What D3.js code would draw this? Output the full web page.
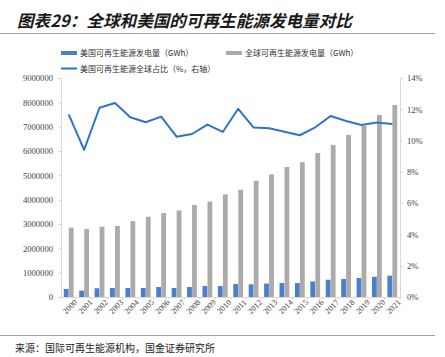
<!DOCTYPE html>
<html><head><meta charset="utf-8">
<script src="https://cdn.jsdelivr.net/npm/d3@7"></script>
<style>
html,body{margin:0;padding:0;background:#fff;}
svg{display:block;}
</style></head>
<body>
<svg id="c" width="445" height="357"></svg>
<script>
const years = ["2000","2001","2002","2003","2004","2005","2006","2007","2008","2009","2010","2011","2012","2013","2014","2015","2016","2017","2018","2019","2020","2021"];
const usGen = [330000,260000,360000,370000,370000,370000,410000,370000,410000,450000,450000,530000,520000,550000,575000,575000,640000,710000,740000,780000,830000,876000];
const globalGen = [2850000,2790000,2890000,2920000,3120000,3300000,3450000,3560000,3780000,3920000,4220000,4410000,4780000,5040000,5340000,5540000,5920000,6250000,6660000,7030000,7480000,7890000];
const usShare = [11.68,9.40,12.10,12.40,11.49,11.17,11.53,10.25,10.42,11.02,10.55,12.03,10.83,10.79,10.57,10.34,10.85,11.57,11.25,11.00,11.15,11.06];
const leftTicks = [0,1000000,2000000,3000000,4000000,5000000,6000000,7000000,8000000,9000000];
const rightTicks = [0,2,4,6,8,10,12,14];
const titleText = "图表29：全球和美国的可再生能源发电量对比";
const sourceText = "来源：国际可再生能源机构，国金证券研究所";
const legendNames = ["美国可再生能源发电量（GWh）","全球可再生能源发电量（GWh）","美国可再生能源全球占比（%，右轴）"];

const svg = d3.select("#c");
const cjk = "'Noto Sans CJK SC', sans-serif";
const serif = "'Liberation Serif', 'Times New Roman', serif";
const blue = "#4a7fcd", gray = "#ababab", lineC = "#2e75c8", axisC = "#d9d9d9", txt = "#404040";

// title
svg.append("text").attr("x",17).attr("y",27).text(titleText)
  .attr("font-family",cjk).attr("font-size",16.6).attr("font-weight","bold")
  .attr("font-style","italic").attr("fill","#1a1a1a");
svg.append("line").attr("x1",0).attr("x2",435).attr("y1",33.5).attr("y2",33.5)
  .attr("stroke","#8fa4b6").attr("stroke-width",1.2);
svg.append("line").attr("x1",0).attr("x2",435).attr("y1",335.5).attr("y2",335.5)
  .attr("stroke","#8fa4b6").attr("stroke-width",1);
svg.append("text").attr("x",15).attr("y",352).text(sourceText)
  .attr("font-family",cjk).attr("font-size",10).attr("fill","#222");

const x = d3.scaleBand().domain(years).range([61,400]).padding(0);
const sub = d3.scaleBand().domain(["us","global"]).range([0,x.bandwidth()]).paddingInner(0.04).paddingOuter(0.56);
const yL = d3.scaleLinear().domain([0,9000000]).range([297,78]);
const yR = d3.scaleLinear().domain([0,14]).range([297,78]);

// bars
svg.append("g").selectAll("rect").data(years).join("rect")
  .attr("x",(d)=>x(d)+sub("us")).attr("width",sub.bandwidth())
  .attr("y",(d,i)=>yL(usGen[i])).attr("height",(d,i)=>yL(0)-yL(usGen[i]))
  .attr("fill",blue);
svg.append("g").selectAll("rect").data(years).join("rect")
  .attr("x",(d)=>x(d)+sub("global")).attr("width",sub.bandwidth())
  .attr("y",(d,i)=>yL(globalGen[i])).attr("height",(d,i)=>yL(0)-yL(globalGen[i]))
  .attr("fill",gray);

// left axis
const gL = svg.append("g").attr("transform","translate(61,0)")
  .call(d3.axisLeft(yL).tickValues(leftTicks).tickSize(3).tickPadding(5).tickFormat(d3.format("d")));
gL.selectAll("path,line").attr("stroke",axisC);
gL.selectAll("text").attr("font-family",serif).attr("font-size",8.6).attr("fill",txt);

// right axis
const gR = svg.append("g").attr("transform","translate(400,0)")
  .call(d3.axisRight(yR).tickValues(rightTicks).tickSize(3).tickPadding(4).tickFormat(d=>d+"%"));
gR.selectAll("path,line").attr("stroke",axisC);
gR.selectAll("text").attr("font-family",serif).attr("font-size",8.6).attr("fill",txt);

// x axis
const gX = svg.append("g").attr("transform","translate(0,297)")
  .call(d3.axisBottom(x).tickSize(0).tickPadding(6));
gX.select("path").attr("stroke",axisC);
gX.selectAll("text").attr("font-family",serif).attr("font-size",8.2).attr("fill",txt)
  .attr("text-anchor","end").attr("dy","0.3em")
  .attr("transform","translate(3,0) rotate(-45)");
// category boundary ticks
svg.append("g").selectAll("line").data(years.concat(["end"])).join("line")
  .attr("x1",(d,i)=>i<years.length?x(d):x.range()[1]).attr("x2",(d,i)=>i<years.length?x(d):x.range()[1])
  .attr("y1",297).attr("y2",300).attr("stroke",axisC);

// line
const line = d3.line().x((d,i)=>x(years[i])+x.bandwidth()/2).y(d=>yR(d));
svg.append("path").datum(usShare).attr("d",line).attr("fill","none")
  .attr("stroke",lineC).attr("stroke-width",2).attr("stroke-linejoin","round");

// legend
const lg = svg.append("g").attr("font-family",cjk).attr("font-size",8).attr("fill","#333");
lg.append("rect").attr("x",61).attr("y",51).attr("width",16).attr("height",4).attr("fill",blue);
lg.append("text").attr("x",80).attr("y",56).text(legendNames[0]);
lg.append("rect").attr("x",226).attr("y",51).attr("width",16).attr("height",4).attr("fill",gray);
lg.append("text").attr("x",245).attr("y",56).text(legendNames[1]);
lg.append("line").attr("x1",61).attr("x2",77).attr("y1",68.5).attr("y2",68.5).attr("stroke",lineC).attr("stroke-width",2);
lg.append("text").attr("x",80).attr("y",71.5).text(legendNames[2]);
</script>
</body></html>
